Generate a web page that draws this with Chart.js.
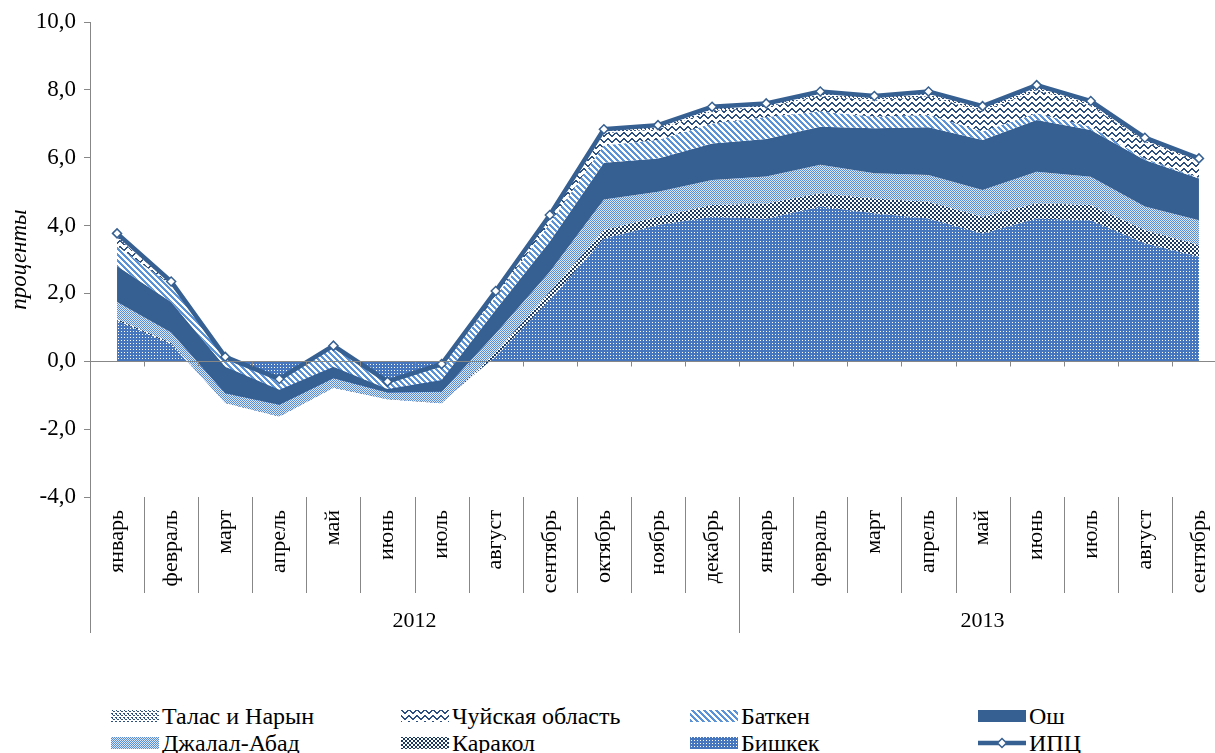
<!DOCTYPE html>
<html><head><meta charset="utf-8">
<script src="https://cdn.jsdelivr.net/npm/chart.js@4.4.1/dist/chart.umd.min.js"></script>
<style>
html,body{margin:0;padding:0;background:#fff;overflow:hidden;width:1215px;height:753px;}
#wrap{position:absolute;left:0;top:0;width:1240px;height:640px;}
.lt{position:absolute;font-family:'Liberation Serif','DejaVu Serif','Times New Roman',serif;font-size:24px;color:#000;white-space:nowrap;line-height:26px;}
.sw{position:absolute;}
</style></head><body>
<div id="wrap"><canvas id="c"></canvas></div>
<div id="legend"></div>
<script>
// ---- data ----
const months = ['январь','февраль','март','апрель','май','июнь','июль','август','сентябрь','октябрь','ноябрь','декабрь',
                'январь','февраль','март','апрель','май','июнь','июль','август','сентябрь'];
const years = ['2012','2013'];
const yearSpans = [12, 9];
const yTicks = [-4, -2, 0, 2, 4, 6, 8, 10];

const bishkek = [1.2, 0.5, -1.2, -1.6, -0.75, -1.1, -1.2, 0.15, 1.81, 3.62, 4.02, 4.26, 4.2, 4.56, 4.36, 4.21, 3.77, 4.21, 4.16, 3.48, 3.08];
const karakol = [0.05, 0.05, -0.03, -0.03, -0.03, -0.02, -0.04, 0.12, 0.24, 0.25, 0.24, 0.35, 0.45, 0.39, 0.44, 0.49, 0.49, 0.45, 0.45, 0.39, 0.35];
const jalalAbad = [0.5, 0.3, 0.29, 0.35, 0.28, 0.2, 0.34, 0.55, 0.59, 0.9, 0.74, 0.73, 0.8, 0.84, 0.74, 0.79, 0.79, 0.93, 0.83, 0.69, 0.73];
const osh = [1.06, 0.9, 0.78, 0.44, 0.34, 0.1, 0.35, 0.7, 0.89, 1.08, 0.98, 1.08, 1.1, 1.12, 1.33, 1.41, 1.47, 1.52, 1.38, 1.37, 1.23];
const batken = [0.59, 0.5, 0.25, 0.3, 0.55, 0.2, 0.4, 0.38, 0.54, 0.52, 0.54, 0.59, 0.65, 0.45, 0.34, 0.36, 0.25, 0.2, 0.09, 0.05, 0.03];
const chuy = [0.25, 0.05, 0.02, 0.01, 0.04, 0.01, 0.04, 0.12, 0.17, 0.35, 0.32, 0.37, 0.3, 0.45, 0.48, 0.55, 0.6, 0.68, 0.62, 0.48, 0.45];
const talasNaryn = [0.1, 0.05, 0.02, 0.01, 0.03, 0.01, 0.03, 0.05, 0.07, 0.12, 0.12, 0.12, 0.1, 0.14, 0.13, 0.14, 0.15, 0.15, 0.14, 0.13, 0.11];
const cpi = [3.77, 2.35, 0.13, -0.52, 0.46, -0.6, -0.08, 2.07, 4.31, 6.84, 6.96, 7.5, 7.6, 7.95, 7.82, 7.95, 7.52, 8.14, 7.67, 6.59, 5.98];

// ---- styles ----
const FONT = "'Liberation Serif','DejaVu Serif','Times New Roman',serif";
const GRAY = '#878787';
const DARK = '#376092';

function tile(w, h, fn) {
  const c = document.createElement('canvas'); c.width = w; c.height = h;
  const g = c.getContext('2d'); g.fillStyle = '#fff'; g.fillRect(0, 0, w, h); fn(g); return c;
}
function px(g, col, pts) { g.fillStyle = col; pts.forEach(p => g.fillRect(p[0], p[1], p[2] || 1, p[3] || 1)); }
const tiles = {
  bishkek: tile(3, 3, g => { g.fillStyle = '#4676BE'; g.fillRect(0, 0, 3, 3); px(g, '#fff', [[1, 1]]); }),
  karakol: tile(4, 4, g => px(g, '#1B3A63', [[0, 0, 2, 2], [2, 2, 2, 2]])),
  jalal: tile(2, 2, g => { g.fillStyle = '#DCE7F7'; g.fillRect(0, 0, 2, 2); px(g, '#5A8CD4', [[0, 0], [1, 1]]); }),
  osh: tile(2, 2, g => { g.fillStyle = DARK; g.fillRect(0, 0, 2, 2); }),
  batken: tile(6, 6, g => { const p = []; for (let x = 0; x < 6; x++) for (let y = 0; y < 6; y++) if ((((x - y) % 6) + 6) % 6 < 3) p.push([x, y]); px(g, '#5B93D8', p); }),
  chuy: tile(8, 6, g => { const p = []; for (let x = 0; x < 8; x++) { const y = x < 4 ? x : 7 - x; p.push([x, y, 1, 2]); } px(g, '#2B4F80', p); }),
  talas: tile(4, 4, g => px(g, '#2B4F80', [[0, 0, 2, 1], [2, 2, 2, 1], [1, 1]]))
};
function pat(ctx, key) { return ctx.createPattern(tiles[key], 'repeat'); }

const canvas = document.getElementById('c');
const ctx = canvas.getContext('2d');

// stacking order bottom -> top
const stackOrder = [
  {label: 'Бишкек', data: bishkek, key: 'bishkek'},
  {label: 'Каракол', data: karakol, key: 'karakol'},
  {label: 'Джалал-Абад', data: jalalAbad, key: 'jalal'},
  {label: 'Ош', data: osh, key: 'osh'},
  {label: 'Баткен', data: batken, key: 'batken'},
  {label: 'Чуйская область', data: chuy, key: 'chuy'},
  {label: 'Талас и Нарын', data: talasNaryn, key: 'talas'}
];
let running = months.map(() => 0);
const cumSets = stackOrder.map(s => {
  running = running.map((v, i) => v + s.data[i]);
  return {label: s.label, key: s.key, cum: running.slice()};
});
// top series first so they are drawn last (on top), each filled down to the next one
const areaSets = cumSets.slice().reverse().map((s, i, arr) => ({
  type: 'line',
  label: s.label,
  data: s.cum,
  backgroundColor: pat(ctx, s.key),
  borderColor: 'rgba(0,0,0,0)',
  borderWidth: 0,
  pointRadius: 0,
  tension: 0,
  fill: i === arr.length - 1 ? 'origin' : '+1'
}));
const cpiSet = {
  type: 'line', label: 'ИПЦ', data: cpi, fill: false,
  borderColor: DARK, borderWidth: 4.5, tension: 0,
  pointStyle: 'rectRot', pointRadius: 4.5, pointBackgroundColor: '#fff',
  pointBorderColor: DARK, pointBorderWidth: 1.5
};

const decor = {
  id: 'decor',
  afterDatasetsDraw(chart) {
    const {ctx, chartArea: a, scales: {x, y}} = chart;
    const n = months.length;
    const bound = i => i === 0 ? a.left : (i === n ? a.right : (x.getPixelForValue(i - 1) + x.getPixelForValue(i)) / 2);
    ctx.save();
    ctx.strokeStyle = GRAY; ctx.lineWidth = 1;
    const y0 = Math.round(y.getPixelForValue(0)) + 0.5;
    ctx.beginPath();
    ctx.moveTo(a.left, y0); ctx.lineTo(a.right, y0);
    for (let i = 1; i < n; i++) { const xb = Math.round(bound(i)) + 0.5; ctx.moveTo(xb, y0); ctx.lineTo(xb, y0 + 5); }
    // category separators below plot
    const yearBounds = [0]; yearSpans.reduce((s, v) => { yearBounds.push(s + v); return s + v; }, 0);
    for (let i = 0; i <= n; i++) {
      const xb = Math.round(bound(i)) + 0.5;
      const isYear = yearBounds.includes(i);
      ctx.moveTo(xb, a.bottom); ctx.lineTo(xb, a.bottom + (isYear ? 136 : 96));
    }
    ctx.stroke();
    ctx.fillStyle = '#000'; ctx.font = '22px ' + FONT; ctx.textAlign = 'center'; ctx.textBaseline = 'middle';
    years.forEach((yr, k) => {
      const cx = (bound(yearBounds[k]) + bound(yearBounds[k + 1])) / 2;
      ctx.fillText(yr, cx, a.bottom + 124);
    });
    ctx.restore();
  }
};

new Chart(canvas, {
  type: 'line',
  data: {labels: months, datasets: [cpiSet, ...areaSets]},
  options: {
    responsive: true, maintainAspectRatio: false, animation: false,
    layout: {padding: {left: 0, right: 14, top: 22, bottom: 0}},
    plugins: {legend: {display: false}, tooltip: {enabled: false}},
    scales: {
      x: {
        type: 'category', offset: true,
        grid: {display: false, drawTicks: false},
        border: {display: false},
        ticks: {autoSkip: false, maxRotation: 90, minRotation: 90, padding: 13, color: '#000', font: {family: FONT, size: 22}},
        afterFit: s => { s.height = 143; }
      },
      y: {
        min: -4, max: 10,
        afterBuildTicks: s => { s.ticks = yTicks.map(v => ({value: v})); },
        grid: {drawOnChartArea: false, drawTicks: true, tickLength: 6, tickColor: GRAY},
        border: {display: true, color: GRAY, width: 1},
        ticks: {padding: 8, color: '#000', font: {family: FONT, size: 23}, callback: v => v.toFixed(1).replace('.', ',')},
        title: {display: true, text: 'проценты', color: '#000', font: {family: FONT, size: 23, style: 'italic'}, padding: {top: 6, bottom: 0}},
        afterFit: s => { s.width = 90; }
      }
    }
  },
  plugins: [decor]
});

// ---- legend (HTML) ----
const legendItems = [
  {label: 'Талас и Нарын', key: 'talas'}, {label: 'Чуйская область', key: 'chuy'}, {label: 'Баткен', key: 'batken'}, {label: 'Ош', key: 'osh'},
  {label: 'Джалал-Абад', key: 'jalal'}, {label: 'Каракол', key: 'karakol'}, {label: 'Бишкек', key: 'bishkek'}, {label: 'ИПЦ', key: 'cpi'}
];
const colX = [111, 401, 690, 978];
const rowY = [716, 743];
const legend = document.getElementById('legend');
legendItems.forEach((it, k) => {
  const col = k % 4, row = Math.floor(k / 4);
  const sw = document.createElement('canvas');
  sw.width = 48; sw.height = 14; sw.className = 'sw';
  sw.style.left = colX[col] + 'px'; sw.style.top = (rowY[row] - 7) + 'px';
  const g = sw.getContext('2d');
  if (it.key === 'cpi') {
    g.strokeStyle = DARK; g.lineWidth = 4.5; g.beginPath(); g.moveTo(0, 7); g.lineTo(48, 7); g.stroke();
    g.fillStyle = '#fff'; g.lineWidth = 1.5; g.beginPath(); g.moveTo(24, 2.5); g.lineTo(28.5, 7); g.lineTo(24, 11.5); g.lineTo(19.5, 7); g.closePath(); g.fill(); g.stroke();
  } else {
    g.fillStyle = g.createPattern(tiles[it.key], 'repeat'); g.fillRect(0, 1, 48, 12);
  }
  legend.appendChild(sw);
  const t = document.createElement('div');
  t.className = 'lt'; t.textContent = it.label;
  t.style.left = (colX[col] + 51) + 'px'; t.style.top = (rowY[row] - 13) + 'px';
  legend.appendChild(t);
});
</script>
</body></html>
